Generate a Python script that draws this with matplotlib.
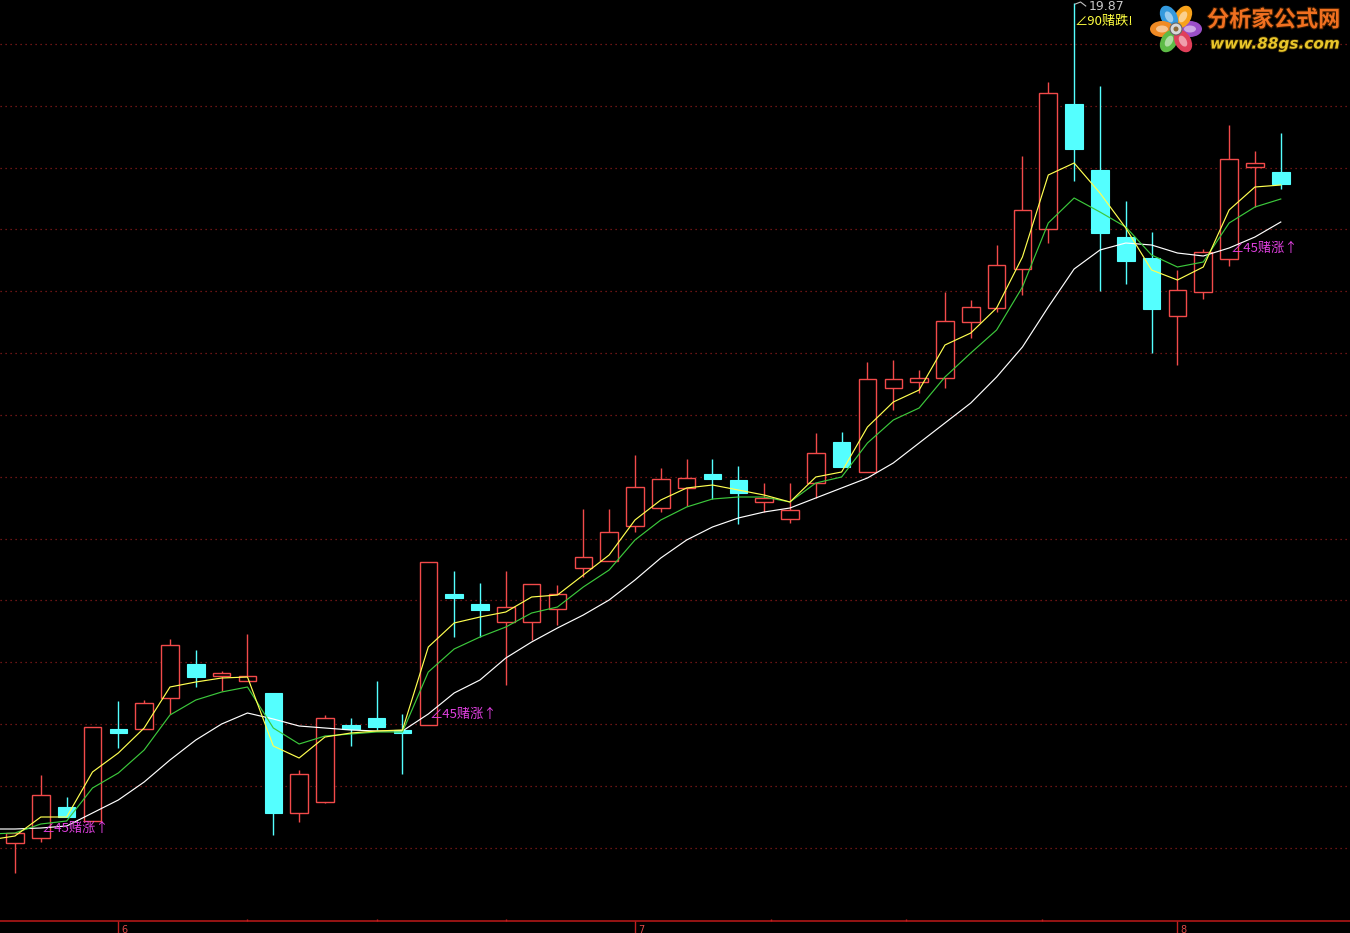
import numpy as np
import matplotlib
matplotlib.use('Agg')
import matplotlib.pyplot as plt
from matplotlib.patches import Rectangle, Ellipse, Circle
import matplotlib.patheffects as pe

# ---------------- data (daily candles) ----------------
opens  = [11.47, 11.52, 11.83, 11.69, 12.61, 12.61, 12.92, 13.26, 13.14, 13.09,
          12.97, 11.77, 11.88, 12.65, 12.72, 12.60, 12.65, 13.96, 13.86, 13.68,
          13.68, 13.81, 14.22, 14.29, 14.64, 14.82, 15.02, 15.16, 15.10, 14.88,
          14.71, 15.07, 15.48, 15.18, 16.02, 16.08, 16.12, 16.68, 16.82, 17.21,
          17.61, 18.86, 18.20, 17.53, 17.32, 16.74, 16.98, 17.31, 18.23, 18.18]
highs  = [11.57, 12.15, 11.93, 12.63, 12.89, 12.90, 13.51, 13.40, 13.19, 13.56,
          12.97, 12.20, 12.75, 12.72, 13.09, 12.76, 14.28, 14.19, 14.07, 14.19,
          14.06, 14.05, 14.81, 14.81, 15.35, 15.22, 15.31, 15.31, 15.24, 15.07,
          15.07, 15.57, 15.58, 16.28, 16.30, 16.20, 16.98, 16.90, 17.45, 18.34,
          19.08, 19.87, 19.04, 17.89, 17.58, 17.20, 17.41, 18.65, 18.39, 18.57]
lows   = [11.17, 11.48, 11.73, 11.69, 12.42, 12.61, 12.76, 13.03, 12.99, 13.09,
          11.55, 11.68, 11.87, 12.44, 12.60, 12.16, 12.65, 13.53, 13.53, 13.05,
          13.50, 13.65, 14.13, 14.29, 14.58, 14.78, 14.84, 14.91, 14.66, 14.78,
          14.67, 14.92, 15.23, 15.18, 15.80, 15.97, 16.02, 16.52, 16.78, 16.95,
          17.47, 18.09, 16.99, 17.06, 16.37, 16.25, 16.91, 17.24, 17.83, 18.01]
closes = [11.57, 11.95, 11.73, 12.63, 12.57, 12.87, 13.45, 13.13, 13.17, 13.14,
          11.77, 12.16, 12.72, 12.61, 12.63, 12.57, 14.28, 13.92, 13.80, 13.83,
          14.06, 13.96, 14.33, 14.58, 15.03, 15.11, 15.12, 15.11, 14.97, 14.92,
          14.80, 15.37, 15.23, 16.11, 16.11, 16.12, 16.69, 16.83, 17.25, 17.80,
          18.97, 18.41, 17.57, 17.29, 16.81, 17.00, 17.38, 18.31, 18.27, 18.06]

# moving-average lines (first value belongs to the day before the first candle)
ma_short = [11.50, 11.54, 11.73, 11.73, 12.18, 12.37, 12.62, 13.03, 13.08, 13.12, 13.13,
            12.44, 12.32, 12.53, 12.57, 12.59, 12.60, 13.43, 13.67, 13.73, 13.78,
            13.93, 13.95, 14.15, 14.35, 14.70, 14.90, 15.02, 15.05, 15.00, 14.95,
            14.88, 15.13, 15.18, 15.63, 15.88, 16.00, 16.45, 16.57, 16.82, 17.33,
            18.15, 18.27, 17.97, 17.62, 17.20, 17.10, 17.23, 17.80, 18.03, 18.05]
ma_mid   = [11.56, 11.57, 11.66, 11.69, 12.02, 12.17, 12.40, 12.75, 12.90, 12.98, 13.03,
            12.62, 12.46, 12.54, 12.56, 12.58, 12.58, 13.18, 13.41, 13.53, 13.63,
            13.77, 13.83, 14.03, 14.20, 14.50, 14.70, 14.83, 14.91, 14.93, 14.93,
            14.88, 15.07, 15.13, 15.47, 15.70, 15.82, 16.13, 16.37, 16.60, 17.03,
            17.67, 17.92, 17.78, 17.63, 17.35, 17.23, 17.28, 17.67, 17.83, 17.91]
ma_long  = [11.61, 11.61, 11.62, 11.64, 11.77, 11.90, 12.08, 12.30, 12.50, 12.66, 12.77,
            12.71, 12.64, 12.62, 12.60, 12.59, 12.59, 12.76, 12.97, 13.10, 13.32,
            13.48, 13.62, 13.75, 13.90, 14.10, 14.32, 14.50, 14.63, 14.72, 14.78,
            14.82, 14.92, 15.02, 15.12, 15.27, 15.47, 15.67, 15.87, 16.13, 16.43,
            16.83, 17.21, 17.40, 17.47, 17.45, 17.37, 17.34, 17.42, 17.53, 17.68]

grid_levels = [19.46, 18.84, 18.22, 17.61, 16.99, 16.37, 15.75, 15.13,
               14.51, 13.90, 13.28, 12.66, 12.04, 11.42]

month_labels = ['6', '7', '8']
month_index = [4, 24, 45]

up_signal_index = [1, 16, 47]
up_signal_text = '∠45赌涨↑'
down_signal_index = 41
down_signal_text = '∠90赌跌!'
peak_label = '19.87'

# ---------------- figure ----------------
CJK = ['Noto Sans CJK SC', 'DejaVu Sans']
RED = '#F24A4A'
CYAN = '#54FFFF'

fig = plt.figure(figsize=(13.5, 9.33), dpi=100, facecolor='black')
ax = fig.add_axes([0, 0, 1, 1])
ax.set_facecolor('black')
ax.set_xlim(-0.58, 51.68)
ax.set_ylim(10.57, 19.90)
ax.axis('off')

# grid
for g in grid_levels:
    ax.axhline(g, color='#8E1C1C', lw=0.9, ls=(0, (1, 3)), zorder=1)

# candles
w = 0.68
for i, (o, h, l, c) in enumerate(zip(opens, highs, lows, closes)):
    if c >= o:
        ax.vlines(i, c, h, color=RED, lw=1, zorder=2)
        ax.vlines(i, l, o, color=RED, lw=1, zorder=2)
        ax.add_patch(Rectangle((i - w / 2, o), w, max(c - o, 0.02),
                               facecolor='black', edgecolor=RED, lw=1, zorder=2))
    else:
        ax.vlines(i, l, h, color=CYAN, lw=1, zorder=2)
        ax.add_patch(Rectangle((i - w / 2, c), w, max(o - c, 0.02),
                               facecolor=CYAN, edgecolor=CYAN, lw=0.8, zorder=2))

# moving averages
xm = np.arange(-1, len(closes))
ax.plot(xm, ma_long, color='white', lw=0.85, zorder=3)
ax.plot(xm, ma_mid, color='#3CC83C', lw=0.85, zorder=3)
ax.plot(xm, ma_short, color='#FFFF50', lw=0.85, zorder=3)

# signals
for idx in up_signal_index:
    ax.text(idx + 0.05, ma_long[idx + 1], up_signal_text, color='#E040E0',
            fontsize=9.5, family=CJK, ha='left', va='center', zorder=4)

hi = highs[down_signal_index]
ax.plot([down_signal_index + 0.05, down_signal_index + 0.25, down_signal_index + 0.45],
        [hi - 0.01, hi + 0.01, hi - 0.03], color='#C0C0C0', lw=0.8, zorder=4)
ax.text(down_signal_index + 0.55, hi - 0.03, peak_label, color='#C8C8C8',
        fontsize=9, ha='left', va='center', zorder=4)
ax.text(down_signal_index + 0.02, hi - 0.19, down_signal_text, color='#FFFF40',
        fontsize=9.5, family=CJK, ha='left', va='center', zorder=4)

# bottom date axis
axis_y = 10.69
ax.axhline(axis_y, color='#B01818', lw=1.2, zorder=5)
for k, (lab, mi) in enumerate(zip(month_labels, month_index)):
    ax.vlines(mi, 10.57, axis_y, color='#C02020', lw=1, zorder=5)
    ax.text(mi + 0.12, axis_y - 0.035, lab, color='#E04848', fontsize=7,
            ha='left', va='top', zorder=5)
    if k + 1 < len(month_index):
        span = month_index[k + 1] - mi
        for q in (1, 2, 3):
            ax.vlines(mi + span * q / 4, axis_y, axis_y + 0.025, color='#C02020',
                      lw=1, zorder=5)

# logo (pixel-space inset)
lax = fig.add_axes([1145 / 1350, 1 - 60 / 933, 205 / 1350, 60 / 933])
lax.set_xlim(1145, 1350)
lax.set_ylim(60, 0)
lax.axis('off')
cx, cy = 1176, 29
petal_colors = ['#9B4FC8', '#F7A21B', '#3399DD', '#F08A24', '#5DBB46', '#E0405A']
for a, col in zip([0, 60, 120, 180, 240, 300], petal_colors):
    r = np.deg2rad(a)
    px, py = cx + 14 * np.cos(r), cy - 14 * np.sin(r)
    lax.add_patch(Ellipse((px, py), 24, 16, angle=-a, facecolor=col,
                          edgecolor='none'))
    lax.add_patch(Ellipse((px, py), 12, 7, angle=-a, facecolor='white',
                          alpha=0.5, edgecolor='none'))
lax.add_patch(Circle((cx, cy), 6, facecolor='#D8D8D8', edgecolor='#666666', lw=0.8))
lax.add_patch(Circle((cx, cy), 2.5, facecolor='#8A6A3A', edgecolor='none'))
lax.text(1207, 20, '分析家公式网', color='#F07020', fontsize=16, weight='bold',
         family=CJK, ha='left', va='center',
         path_effects=[pe.withStroke(linewidth=1.5, foreground='#3A1A00')])
lax.text(1210, 44, 'www.88gs.com', color='#E8C52A', fontsize=11, weight='bold',
         style='italic', ha='left', va='center',
         path_effects=[pe.withStroke(linewidth=1.2, foreground='#3A2A00')])

fig.savefig('out.png', dpi=100, facecolor='black')
